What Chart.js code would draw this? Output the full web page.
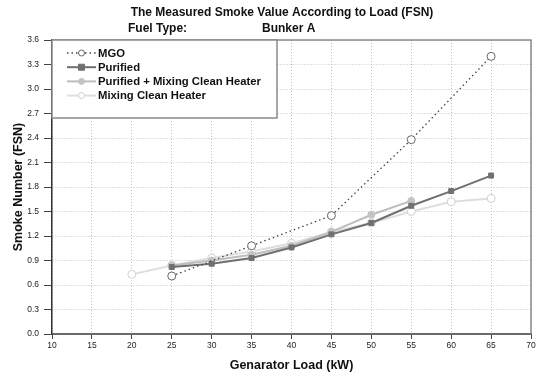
<!DOCTYPE html>
<html>
<head>
<meta charset="utf-8">
<script src="https://cdn.jsdelivr.net/npm/chart.js@4/dist/chart.umd.min.js"></script>
<style>
  html, body { margin: 0; padding: 0; background: #fff; }
  #wrap { width: 539px; height: 377px; }
</style>
</head>
<body>
<div id="wrap"><canvas id="smokeChart" width="539" height="377"></canvas></div>
<script>
// load points (kW) per series
const mgoLoad      = [25, 35, 45, 55, 65];
const mgoFsn       = [0.71, 1.08, 1.45, 2.38, 3.40];

const purLoad      = [25, 30, 35, 40, 45, 50, 55, 60, 65];
const purFsn       = [0.82, 0.86, 0.93, 1.06, 1.22, 1.36, 1.57, 1.75, 1.94];

const purMixLoad   = [25, 30, 35, 40, 45, 50, 55];
const purMixFsn    = [0.84, 0.90, 0.97, 1.08, 1.25, 1.46, 1.63];

const mixLoad      = [20, 25, 30, 35, 40, 45, 50, 55, 60, 65];
const mixFsn       = [0.73, 0.84, 0.93, 1.01, 1.11, 1.25, 1.36, 1.50, 1.62, 1.66];

const seriesNames  = ["MGO", "Purified", "Purified + Mixing Clean Heater", "Mixing Clean Heater"];

const xTicks = { min: 10, max: 70, step: 5 };
const yTicks = { min: 0, max: 3.6, step: 0.3 };

const FONT = "'Liberation Sans', Arial, sans-serif";

const pts = (xs, ys) => xs.map((x, i) => ({ x, y: ys[i] }));

// titles at top
const titlePlugin = {
  id: "titles",
  afterDraw(chart) {
    const c = chart.ctx;
    c.save();
    c.fillStyle = "#111";
    c.font = "bold 12px " + FONT;
    c.textBaseline = "middle";
    c.textAlign = "center";
    c.fillText("The Measured Smoke Value According to Load (FSN)", 282, 13);
    c.textAlign = "left";
    c.fillText("Fuel Type:", 128, 29);
    c.fillText("Bunker A", 262, 29);
    c.restore();
  }
};

// frame on top/right + legend box inside plot
const framePlugin = {
  id: "frame",
  afterDraw(chart) {
    const c = chart.ctx;
    const a = chart.chartArea;
    c.save();
    c.strokeStyle = "#8a8a8a";
    c.lineWidth = 1.5;
    c.beginPath();
    c.moveTo(a.left, a.top);
    c.lineTo(a.right, a.top);
    c.lineTo(a.right, a.bottom);
    c.stroke();

    // legend
    const bx = a.left, by = a.top, bw = 225, bh = 78;
    c.fillStyle = "#fff";
    c.fillRect(bx, by, bw, bh);
    c.strokeStyle = "#8a8a8a";
    c.lineWidth = 1.5;
    c.strokeRect(bx, by, bw, bh);

    c.font = "bold 11.3px " + FONT;
    c.textBaseline = "middle";
    c.textAlign = "left";
    chart.data.datasets.forEach((ds, i) => {
      const y = by + 13 + i * 14.2;
      const x0 = bx + 15, x1 = bx + 44;
      c.strokeStyle = ds.borderColor;
      c.lineWidth = ds.borderWidth;
      c.setLineDash(ds.borderDash || []);
      c.beginPath();
      c.moveTo(x0, y);
      c.lineTo(x1, y);
      c.stroke();
      c.setLineDash([]);
      const mx = (x0 + x1) / 2;
      c.fillStyle = ds.pointBackgroundColor;
      c.strokeStyle = ds.pointBorderColor;
      c.lineWidth = 1;
      c.beginPath();
      if (ds.pointStyle === "rect") {
        c.rect(mx - 3, y - 3, 6, 6);
      } else {
        c.arc(mx, y, 3, 0, Math.PI * 2);
      }
      c.fill();
      c.stroke();
      c.fillStyle = "#111";
      c.fillText(ds.label, x1 + 2, y + 0.5);
    });
    c.restore();
  }
};

const gridOpts = (len) => ({
  color: "#c2c2c2",
  tickColor: "#444",
  tickBorderDash: [],
  tickLength: len,
  lineWidth: 1
});

new Chart(document.getElementById("smokeChart"), {
  type: "line",
  data: {
    datasets: [
      {
        label: seriesNames[0],
        data: pts(mgoLoad, mgoFsn),
        borderColor: "#444",
        borderWidth: 1.3,
        borderDash: [1.5, 3],
        pointStyle: "circle",
        pointRadius: 4,
        pointBackgroundColor: "#fff",
        pointBorderColor: "#666",
        pointBorderWidth: 1,
        order: 1
      },
      {
        label: seriesNames[1],
        data: pts(purLoad, purFsn),
        borderColor: "#6f6f6f",
        borderWidth: 2,
        pointStyle: "rect",
        pointRadius: 3.5,
        pointBackgroundColor: "#707070",
        pointBorderColor: "#707070",
        pointBorderWidth: 1,
        order: 2
      },
      {
        label: seriesNames[2],
        data: pts(purMixLoad, purMixFsn),
        borderColor: "#bdbdbd",
        borderWidth: 2,
        pointStyle: "circle",
        pointRadius: 3.5,
        pointBackgroundColor: "#c4c4c4",
        pointBorderColor: "#c4c4c4",
        pointBorderWidth: 1,
        order: 3
      },
      {
        label: seriesNames[3],
        data: pts(mixLoad, mixFsn),
        borderColor: "#dedede",
        borderWidth: 2,
        pointStyle: "circle",
        pointRadius: 4,
        pointBackgroundColor: "#fff",
        pointBorderColor: "#d0d0d0",
        pointBorderWidth: 1,
        order: 4
      }
    ]
  },
  options: {
    responsive: false,
    animation: false,
    layout: { padding: { top: 40, right: 8, left: 0, bottom: 0 } },
    plugins: {
      legend: { display: false },
      tooltip: { enabled: false }
    },
    scales: {
      x: {
        type: "linear",
        min: xTicks.min,
        max: xTicks.max,
        afterFit: s => { s.height = 43; },
        ticks: {
          stepSize: xTicks.step,
          color: "#222",
          font: { family: FONT, size: 8.5 },
          padding: 2,
          maxRotation: 0
        },
        grid: gridOpts(5),
        border: { color: "#6a6a6a", width: 2, dash: [1, 2] },
        title: {
          display: true,
          text: "Genarator Load (kW)",
          color: "#111",
          font: { family: FONT, size: 12.5, weight: "bold" },
          padding: { top: 4 }
        }
      },
      y: {
        min: yTicks.min,
        max: yTicks.max,
        afterFit: s => { s.width = 52; },
        afterBuildTicks: s => {
          const t = [];
          for (let v = yTicks.min; v <= yTicks.max + 1e-9; v += yTicks.step) t.push({ value: +v.toFixed(1) });
          s.ticks = t;
        },
        ticks: {
          color: "#222",
          font: { family: FONT, size: 8.5 },
          padding: 5,
          callback: v => v.toFixed(1)
        },
        grid: gridOpts(8),
        border: { color: "#333", width: 1.5, dash: [1, 2] },
        title: {
          display: true,
          text: "Smoke Number (FSN)",
          color: "#111",
          font: { family: FONT, size: 12.5, weight: "bold" },
          padding: { top: 11, bottom: 2 }
        }
      }
    }
  },
  plugins: [titlePlugin, framePlugin]
});
</script>
</body>
</html>
